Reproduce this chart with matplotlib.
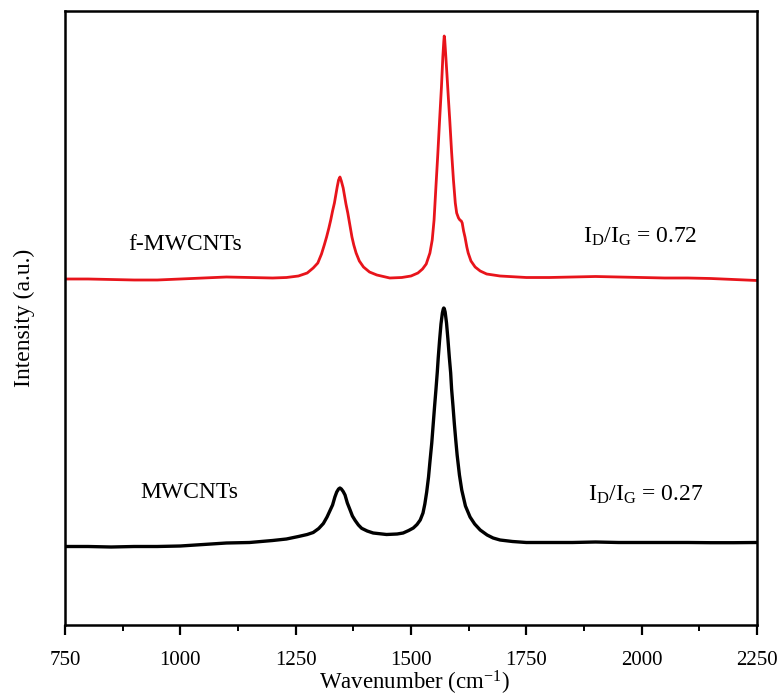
import matplotlib
matplotlib.use("Agg")
import matplotlib.pyplot as plt
from matplotlib.ticker import MultipleLocator

plt.rcParams["font.family"] = ["Liberation Serif", "DejaVu Serif"]
plt.rcParams["mathtext.fontset"] = "custom"
plt.rcParams["mathtext.rm"] = "Liberation Serif"
plt.rcParams["mathtext.it"] = "Liberation Serif:italic"

# Raman spectrum of functionalised MWCNTs (offset upward)
f_wavenumber = [750, 800, 850, 900, 950, 1000, 1050, 1100, 1150, 1200, 1230, 1256,
                1275, 1288, 1298, 1306, 1312, 1317, 1322, 1326, 1330, 1334, 1337,
                1340, 1343, 1346, 1349, 1353, 1356, 1359, 1363, 1366, 1369, 1372,
                1376, 1381, 1388, 1397, 1410, 1426, 1454, 1480, 1500, 1515, 1525,
                1533, 1541, 1546, 1550, 1554, 1558, 1562, 1566, 1569, 1571, 1572,
                1573, 1575, 1578, 1581, 1584, 1588, 1592, 1596, 1599, 1603, 1606,
                1609, 1611, 1614, 1617, 1621, 1624, 1630, 1639, 1650, 1664, 1693,
                1750, 1800, 1850, 1900, 1950, 2000, 2050, 2100, 2150, 2200, 2250]
f_intensity = [346, 346, 345.5, 345, 345, 346, 347, 348, 347.5, 347, 347.5, 349,
               352, 357, 362, 371, 380, 388, 397, 405, 414, 422, 430,
               438, 445, 448, 444, 437, 429, 421, 412, 404, 396, 388,
               380, 372, 364, 358, 353, 350, 347, 347.5, 349, 352, 356,
               361, 372, 385, 405, 438, 470, 505, 538, 568, 583, 589,
               586, 572, 550, 527, 505, 473, 445, 422, 412, 407, 405,
               404, 402, 394, 388, 378, 372, 364, 358, 354, 351, 349,
               347.5, 347.5, 348, 348.5, 348, 347.5, 347, 347, 346.5, 345.5, 344.5]

# Raman spectrum of pristine MWCNTs
p_wavenumber = [750, 800, 850, 900, 950, 1000, 1050, 1100, 1150, 1200, 1230, 1256,
                1275, 1288, 1300, 1310, 1318, 1325, 1330, 1335, 1339, 1343, 1346,
                1349, 1353, 1357, 1362, 1368, 1373, 1379, 1386, 1393, 1405, 1418,
                1447, 1470, 1483, 1495, 1505, 1513, 1520, 1526, 1530, 1534, 1538,
                1541, 1545, 1548, 1551, 1554, 1557, 1559, 1562, 1565, 1568, 1570,
                1571, 1572, 1574, 1577, 1580, 1583, 1586, 1588, 1591, 1594, 1597,
                1600, 1605, 1610, 1618, 1628, 1638, 1650, 1665, 1678, 1693, 1720,
                1750, 1800, 1850, 1900, 1950, 2000, 2050, 2100, 2150, 2200, 2250]
p_intensity = [78.5, 78.5, 78, 78.5, 78.5, 79, 80.5, 82, 82.5, 84.5, 86, 88.5,
               90.5, 92.5, 96.5, 101.5, 108, 115, 120, 128, 133, 136, 137,
               136, 133.5, 130, 122, 115, 109, 104.5, 100, 96.7, 94, 92,
               90.5, 91, 92, 94.5, 97, 100.5, 105, 112, 121, 133, 148,
               163, 182, 200, 218, 235, 253, 267, 285, 301, 312, 316,
               317, 316.5, 313, 302, 286, 268, 252, 236, 219, 201, 185,
               170, 150, 135, 119, 108, 101, 95, 90, 87, 85, 83.5,
               82.5, 82.5, 82.5, 83, 82.5, 82.5, 82.5, 82.5, 82.3, 82.3, 82.5]

x_ticks = [750, 1000, 1250, 1500, 1750, 2000, 2250]
sample_names = ["f-MWCNTs", "MWCNTs"]
ratio_labels = [r"$\mathrm{I_D/I_G}$ = 0.72", r"$\mathrm{I_D/I_G}$ = 0.27"]

fig = plt.figure(figsize=(7.8, 6.98), dpi=100)
ax = fig.add_axes([65 / 780, 73 / 698, 692 / 780, 614 / 698])

ax.plot(f_wavenumber, f_intensity, color="#e8141b", lw=2.0)
ax.plot(p_wavenumber, p_intensity, color="black", lw=2.4)

ax.set_xlim(750, 2250)
ax.set_ylim(0, 614)
ax.set_xticks(x_ticks)
ax.set_xticklabels([str(t) for t in x_ticks])
ax.xaxis.set_minor_locator(MultipleLocator(125))
ax.set_yticks([])
ax.tick_params(axis="x", which="major", direction="out", length=7, width=1.6,
               labelsize=15, pad=12, top=False)
ax.tick_params(axis="x", which="minor", direction="out", length=4.5, width=1.4,
               top=False)
for sp in ax.spines.values():
    sp.set_linewidth(1.8)

ax.set_xlabel("Wavenumber (cm$^{-1}$)", fontsize=16.5)
ax.xaxis.set_label_coords(0.505, -0.072)
ax.set_ylabel("Intensity (a.u.)", fontsize=17)
ax.yaxis.set_label_coords(-0.044, 0.5)

ax.text(1011, 381, sample_names[0], fontsize=17, ha="center", va="center")
ax.text(1019, 132, sample_names[1], fontsize=17, ha="center", va="center")
ax.text(1873, 388, ratio_labels[0], fontsize=17, ha="left", va="center")
ax.text(1884, 130, ratio_labels[1], fontsize=17, ha="left", va="center")

fig.savefig("out.png", dpi=100)
